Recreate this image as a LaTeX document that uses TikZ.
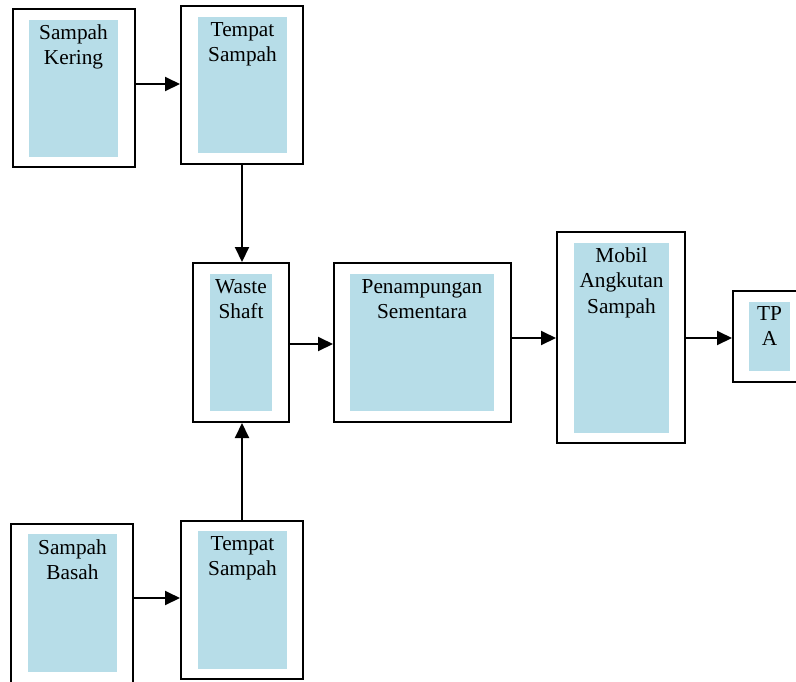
\documentclass[tikz,border=0pt]{standalone}
\usepackage{fontspec}
\setmainfont{Liberation Serif}
\usetikzlibrary{arrows.meta}
\definecolor{lblue}{RGB}{183,221,232}
\begin{document}
\begin{tikzpicture}[x=1pt,y=-1pt,
  outerbox/.style={draw=black, line width=2pt, inner sep=0pt, fill=white},
  innerfill/.style={fill=lblue},
  lbl/.style={anchor=north, inner sep=0pt, align=center, font=\fontsize{21.3}{25.5}\selectfont},
  conn/.style={line width=2pt, -{Triangle[length=15pt,width=14pt]}}]
\useasboundingbox (0,0) rectangle (796,681);

% Sampah Kering
\node[outerbox, minimum width=122pt, minimum height=158pt] (k1) at (74,88) {};
\path[innerfill] (29,20) rectangle (118,157);
\node[lbl] (k1t) at (73.5,20) {\rule{0pt}{19pt}Sampah\\Kering};

% Tempat Sampah (top)
\node[outerbox, minimum width=122pt, minimum height=158pt] (t1) at (242,85) {};
\path[innerfill] (198,17) rectangle (287,153);
\node[lbl] (t1t) at (242.5,17) {\rule{0pt}{19pt}Tempat\\Sampah};

% Waste Shaft
\node[outerbox, minimum width=96pt, minimum height=159pt] (ws) at (241,342.5) {};
\path[innerfill] (210,274) rectangle (272,411);
\node[lbl] (wst) at (241,274) {\rule{0pt}{19pt}Waste\\Shaft};

% Penampungan Sementara
\node[outerbox, minimum width=177pt, minimum height=159pt] (ps) at (422.5,342.5) {};
\path[innerfill] (350,274) rectangle (494,411);
\node[lbl] (pst) at (422,274) {\rule{0pt}{19pt}Penampungan\\Sementara};

% Mobil Angkutan Sampah
\node[outerbox, minimum width=128pt, minimum height=211pt] (ma) at (621,337.5) {};
\path[innerfill] (574,243) rectangle (669,433);
\node[lbl] (mat) at (621.5,243) {\rule{0pt}{19pt}Mobil\\Angkutan\\Sampah};

% TPA
\node[outerbox, minimum width=65pt, minimum height=91pt] (tpa) at (765.5,336.5) {};
\path[innerfill] (749,302) rectangle (790,371);
\node[lbl] (tpat) at (769.5,302) {\rule{0pt}{18pt}TP\\A};

% Sampah Basah
\node[outerbox, minimum width=122pt, minimum height=162pt] (sb) at (72,605) {};
\path[innerfill] (28,534) rectangle (117,672);
\node[lbl] (sbt) at (72.5,534) {\rule{0pt}{20pt}Sampah\\Basah};

% Tempat Sampah (bottom)
\node[outerbox, minimum width=122pt, minimum height=158pt] (t2) at (242,600) {};
\path[innerfill] (198,531) rectangle (287,669);
\node[lbl] (t2t) at (242.5,531) {\rule{0pt}{19pt}Tempat\\Sampah};

% connectors
\draw[conn] (k1.east |- 0,84) -- (t1.west |- 0,84);
\draw[conn] (t1.south) -- (t1.south |- ws.north);
\draw[conn] (ws.east |- 0,344) -- (ps.west |- 0,344);
\draw[conn] (ps.east |- 0,338) -- (ma.west |- 0,338);
\draw[conn] (ma.east |- 0,338) -- (tpa.west |- 0,338);
\draw[conn] (sb.east |- 0,598) -- (t2.west |- 0,598);
\draw[conn] (t2.north) -- (t2.north |- ws.south);
\end{tikzpicture}
\end{document}
